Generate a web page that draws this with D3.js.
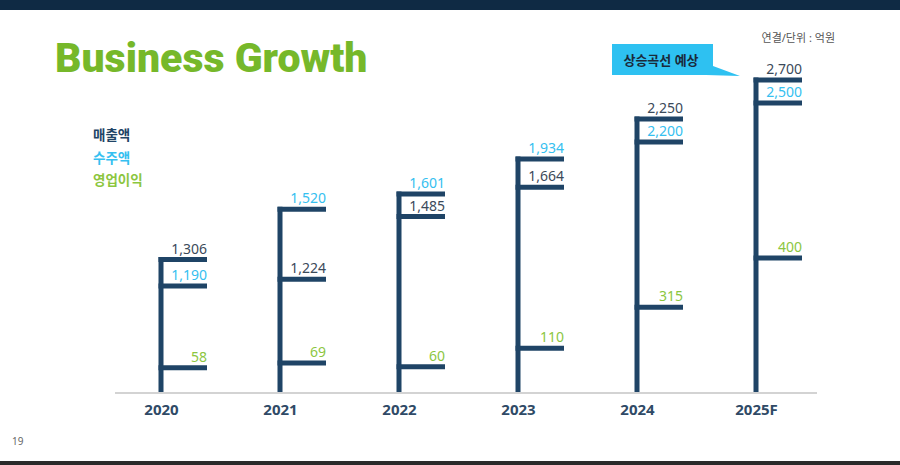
<!DOCTYPE html>
<html>
<head>
<meta charset="utf-8">
<script src="https://cdn.jsdelivr.net/npm/d3@7"></script>
<style>
  body { margin: 0; background: #fff; }
  svg { display: block; font-family: "Noto Sans", "Noto Sans CJK KR", sans-serif; }
</style>
</head>
<body>
<svg class="canvas" width="900" height="465"></svg>
<script>
// data (억원)
const years = ["2020", "2021", "2022", "2023", "2024", "2025F"];
const sales = [1306, 1224, 1485, 1664, 2250, 2700];    // 매출액
const orders = [1190, 1520, 1601, 1934, 2200, 2500];   // 수주액
const profit = [58, 69, 60, 110, 315, 400];            // 영업이익
const legendLabels = ["매출액", "수주액", "영업이익"];

const colors = {
  line: "#1f4466",
  sales: "#3b4a5a",
  orders: "#35c0f0",
  profit: "#8cc63f",
  title: "#76b82a",
};

const svg = d3.select(".canvas");
const baseY = 392;

// the slide is drawn on a stretched, non uniform scale -> piecewise linear
const y = d3.scaleLinear()
  .domain([0, 1200, 1500, 1600, 2000, 2200, 2250, 2500, 2700])
  .range([baseY, 285, 213, 194, 152, 142, 119, 103, 80]);
const yProfit = d3.scaleLinear()
  .domain([0, 100, 300, 400])
  .range([baseY, 350, 316, 258]);

const x = d3.scalePoint().domain(years).range([161, 756]);
const tickLen = 46;

// top & bottom bands
svg.append("rect").attr("x", 0).attr("y", 0).attr("width", 900).attr("height", 10).attr("fill", "#0f2a44");
svg.append("rect").attr("x", 0).attr("y", 461).attr("width", 900).attr("height", 4).attr("fill", "#2a2a2a");

// title
svg.append("text")
  .attr("x", 55).attr("y", 72)
  .attr("fill", colors.title)
  .style("font-family", "Roboto, sans-serif")
  .style("font-weight", 900)
  .style("font-size", "41px")
  .text("Business Growth");

svg.append("text")
  .attr("x", 835).attr("y", 42)
  .attr("text-anchor", "end")
  .attr("fill", "#555")
  .style("font-size", "11px")
  .text("연결/단위 : 억원");

svg.append("text")
  .attr("x", 12).attr("y", 445)
  .attr("fill", "#666")
  .style("font-size", "10px")
  .text("19");

// legend
const legendColors = [colors.line, colors.orders, colors.profit];
svg.append("g").selectAll("text")
  .data(legendLabels)
  .join("text")
  .attr("x", 93)
  .attr("y", (d, i) => 140 + i * 22.5)
  .attr("fill", (d, i) => legendColors[i])
  .style("font-size", "13.5px")
  .style("font-weight", 700)
  .text((d) => d);

// callout
const callout = svg.append("g");
callout.append("path")
  .attr("d", "M612,44 H713 V66 L740,76 L706,75 H612 Z")
  .attr("fill", "#2ec1f1");
callout.append("text")
  .attr("x", 661).attr("y", 65)
  .attr("text-anchor", "middle")
  .attr("fill", "#1a2a3a")
  .style("font-size", "13px")
  .style("font-weight", 700)
  .text("상승곡선 예상");

// axis
svg.append("line")
  .attr("x1", 115).attr("x2", 817)
  .attr("y1", baseY + 1).attr("y2", baseY + 1)
  .attr("stroke", "#c4c4c4").attr("stroke-width", 1.5);

const xAxis = d3.axisBottom(x).tickSize(0).tickPadding(12);
const xAxisGroup = svg.append("g").attr("transform", `translate(0,${baseY})`).call(xAxis);
xAxisGroup.select(".domain").remove();
xAxisGroup.selectAll("text")
  .attr("fill", "#2f4a66")
  .style("font-size", "15px")
  .style("font-weight", 700)
  .style("font-family", "'Noto Sans', sans-serif");

// marks
const data = years.map((yr, i) => ({ year: yr, sales: sales[i], orders: orders[i], profit: profit[i] }));

const graph = svg.append("g");
const cols = graph.selectAll("g.col").data(data).join("g").attr("class", "col");

cols.append("line")
  .attr("x1", (d) => x(d.year)).attr("x2", (d) => x(d.year))
  .attr("y1", baseY)
  .attr("y2", (d) => y(Math.max(d.sales, d.orders)) - 2.5)
  .attr("stroke", colors.line).attr("stroke-width", 5);

const series = [
  { key: "sales", scale: y, color: colors.sales },
  { key: "orders", scale: y, color: colors.orders },
  { key: "profit", scale: yProfit, color: colors.profit },
];

series.forEach((s) => {
  cols.append("line")
    .attr("x1", (d) => x(d.year) - 2.5)
    .attr("x2", (d) => x(d.year) + tickLen)
    .attr("y1", (d) => s.scale(d[s.key]))
    .attr("y2", (d) => s.scale(d[s.key]))
    .attr("stroke", colors.line).attr("stroke-width", 5);

  cols.append("text")
    .attr("x", (d) => x(d.year) + tickLen)
    .attr("y", (d) => s.scale(d[s.key]) - 6)
    .attr("text-anchor", "end")
    .attr("fill", s.color)
    .style("font-size", "14px")
    .text((d) => d3.format(",")(d[s.key]));
});
</script>
</body>
</html>
